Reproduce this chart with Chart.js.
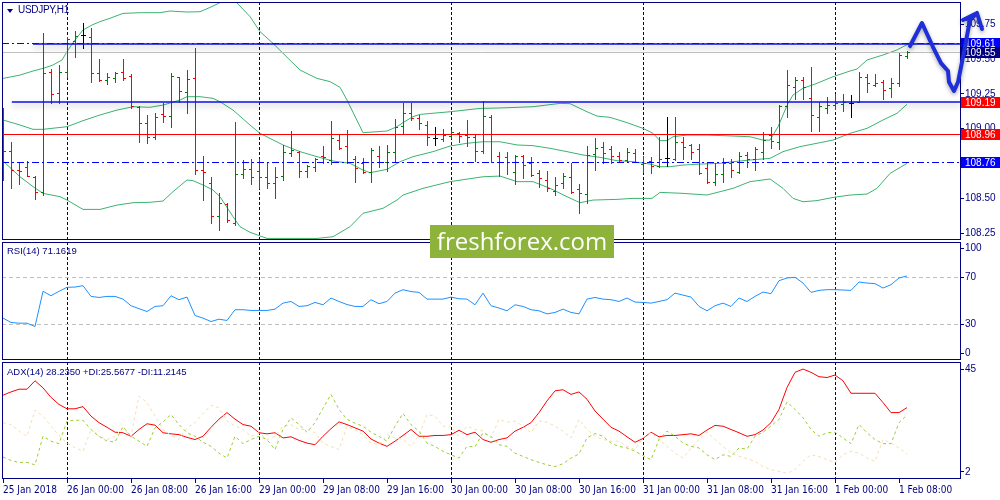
<!DOCTYPE html>
<html>
<head>
<meta charset="utf-8">
<title>USDJPY,H1</title>
<script src="https://cdn.jsdelivr.net/npm/chart.js@4.4.1/dist/chart.umd.min.js"></script>
<style>
  html, body { margin:0; padding:0; background:#ffffff; }
  #stage { position:relative; width:1000px; height:500px; overflow:hidden; background:#ffffff; }
  #stage canvas { position:absolute; left:0; }
  .cap { position:absolute; font-family:"Liberation Sans", Arial, sans-serif; font-size:9.5px; color:#000080; white-space:nowrap; line-height:12px; }
  #tri { position:absolute; left:7px; top:9px; width:0; height:0; border-left:3px solid transparent; border-right:3px solid transparent; border-top:4px solid #000080; }
  #wm { position:absolute; left:430px; top:225px; width:184px; height:33px; background:#8db33a; color:#ffffff; font-family:"Open Sans", sans-serif; font-size:24px; line-height:32px; text-align:center; z-index:5; }
</style>
</head>
<body>
<div id="stage">
  <canvas id="cMain" width="1000" height="241" style="top:0px"></canvas>
  <canvas id="cRsi" width="1000" height="121" style="top:241px"></canvas>
  <canvas id="cAdx" width="1000" height="138" style="top:362px"></canvas>
  <div id="tri"></div>
  <div class="cap" id="tMain" style="left:18px;top:4px;font-size:10px;letter-spacing:-0.3px"></div>
  <div class="cap" id="tRsi" style="left:7px;top:245px"></div>
  <div class="cap" id="tAdx" style="left:7px;top:366px"></div>
  <div id="wm">freshforex.com</div>
</div>
<script>
// ---------------- DATA ----------------
const symbolName = 'USDJPY,H1';
const tickLabels = ['25 Jan 2018','26 Jan 00:00','26 Jan 08:00','26 Jan 16:00','29 Jan 00:00','29 Jan 08:00','29 Jan 16:00','30 Jan 00:00','30 Jan 08:00','30 Jan 16:00','31 Jan 00:00','31 Jan 08:00','31 Jan 16:00','1 Feb 00:00','1 Feb 08:00'];
const tickBars = [0,8,16,24,32,40,48,56,64,72,80,88,96,104,112];
const daySeparators = [8,32,56,80,104];
const priceTicks = [108.25,108.50,108.75,109.00,109.25,109.50,109.75];
const rsiTicks = [0,30,70,100];
const rsiLevels = [30,70];
const adxTicks = [2,45];
const levelPrices = [109.61,109.19,108.96,108.76];

const opens = [
108.727,108.840,108.703,108.727,108.655,108.548,109.408,109.258,109.403,109.628,
109.671,109.659,109.401,109.349,109.360,109.408,109.377,109.157,109.038,108.942,
109.105,109.090,109.368,109.265,109.360,108.703,108.608,108.374,108.460,108.326,
108.672,108.708,108.696,108.655,108.608,108.660,108.828,108.835,108.696,108.727,
108.804,108.775,108.918,108.878,108.780,108.751,108.687,108.806,108.758,108.835,
109.019,109.110,109.074,109.026,108.935,108.923,108.947,108.966,108.954,108.942,
108.842,109.086,108.806,108.799,108.691,108.804,108.751,108.679,108.632,108.555,
108.608,108.651,108.567,108.531,108.818,108.871,108.851,108.806,108.775,108.823,
108.746,108.770,108.734,108.787,108.780,108.906,108.883,108.854,108.720,108.620,
108.675,108.751,108.691,108.811,108.780,108.835,108.954,108.906,109.162,109.296,
109.349,109.217,109.086,109.145,109.172,109.177,109.181,109.193,109.368,109.313,
109.337,109.289,109.325,109.521];
const highs = [
109.145,108.906,108.758,108.768,108.663,109.683,109.425,109.456,109.659,109.702,
109.755,109.719,109.497,109.396,109.408,109.497,109.392,109.162,109.098,109.114,
109.186,109.396,109.372,109.420,109.575,108.804,108.655,108.536,108.469,109.050,
108.775,108.780,108.780,108.756,108.727,108.883,108.983,108.842,108.739,108.787,
108.878,109.055,108.959,108.990,108.804,108.792,108.861,108.878,108.883,109.069,
109.186,109.181,109.098,109.055,109.014,108.997,108.990,108.973,109.062,108.954,
109.198,109.098,108.835,108.835,108.811,108.811,108.799,108.703,108.699,108.655,
108.679,108.751,108.601,108.875,108.935,108.902,108.875,108.835,108.859,108.851,
108.804,108.799,108.942,109.086,109.086,108.942,108.890,108.890,108.751,108.756,
108.787,108.780,108.835,108.835,108.871,108.978,109.014,109.169,109.420,109.368,
109.372,109.444,109.193,109.224,109.246,109.246,109.241,109.408,109.392,109.392,
109.349,109.360,109.544,109.559];
const lows = [
108.632,108.577,108.601,108.663,108.493,108.524,109.181,109.181,109.372,109.516,
109.575,109.337,109.344,109.317,109.337,109.349,109.145,108.906,108.899,108.923,
109.050,109.014,109.193,109.114,108.675,108.488,108.321,108.273,108.333,108.309,
108.644,108.603,108.572,108.577,108.500,108.632,108.804,108.655,108.655,108.699,
108.751,108.746,108.854,108.756,108.620,108.679,108.620,108.727,108.696,108.758,
108.959,109.062,108.997,108.883,108.883,108.911,108.930,108.906,108.878,108.770,
108.823,108.758,108.660,108.675,108.603,108.648,108.660,108.584,108.555,108.524,
108.572,108.541,108.397,108.469,108.703,108.751,108.751,108.770,108.758,108.763,
108.687,108.679,108.727,108.734,108.775,108.782,108.780,108.672,108.608,108.596,
108.620,108.655,108.684,108.727,108.703,108.780,108.859,108.854,109.086,109.210,
109.210,108.985,108.985,109.114,109.138,109.126,109.086,109.193,109.265,109.306,
109.212,109.229,109.306,109.504];
const closes = [
108.840,108.703,108.699,108.663,108.548,109.401,109.248,109.403,109.640,109.664,
109.671,109.401,109.349,109.368,109.396,109.360,109.162,109.038,108.942,109.086,
109.090,109.377,109.270,109.353,108.703,108.691,108.374,108.464,108.345,108.672,
108.708,108.655,108.651,108.608,108.655,108.830,108.847,108.699,108.734,108.780,
108.794,108.930,108.859,108.758,108.715,108.687,108.847,108.763,108.835,109.014,
109.114,109.078,109.038,108.942,108.935,108.954,108.978,108.947,108.937,108.842,
109.090,108.758,108.763,108.758,108.804,108.739,108.667,108.644,108.572,108.596,
108.660,108.548,108.541,108.811,108.859,108.823,108.806,108.775,108.835,108.763,
108.756,108.734,108.780,108.787,108.906,108.871,108.835,108.684,108.620,108.675,
108.751,108.703,108.804,108.780,108.851,108.918,108.914,109.162,109.313,109.349,
109.296,109.098,109.162,109.169,109.186,109.193,109.181,109.372,109.325,109.325,
109.277,109.329,109.528,109.547];

// Bollinger bands: [bar, price]
const bbUpper = [[0,109.360],[2.13,109.384],[3.75,109.413],[5,109.432],[6.25,109.456],[7.38,109.492],[8.13,109.564],[9,109.635],[10,109.707],[11.13,109.743],[12.13,109.767],[13.38,109.791],[15,109.826],[17.13,109.831],[19.63,109.831],[20.88,109.843],[23,109.836],[24.63,109.838],[25.88,109.869],[27.13,109.903],[28.25,109.958],[29.38,109.893],[30.88,109.803],[32.13,109.695],[33.75,109.611],[35,109.540],[37.13,109.420],[39.25,109.360],[40.88,109.337],[42.13,109.296],[43,109.205],[45,108.971],[48,108.983],[49.25,109.014],[50,109.043],[51.25,109.086],[52.13,109.102],[55.88,109.121],[59.63,109.145],[62.13,109.148],[66.25,109.157],[69.63,109.181],[70.88,109.179],[73,109.121],[74.25,109.090],[75.88,109.081],[78,109.043],[80,109.002],[81.25,108.966],[82.13,108.914],[83,108.914],[83.75,108.942],[85.5,108.954],[88,108.954],[93.38,108.942],[95,108.918],[95.88,108.918],[96.88,109.014],[97.5,109.098],[98.13,109.181],[98.75,109.241],[100,109.289],[101.75,109.325],[103.75,109.372],[105.88,109.413],[106.75,109.427],[108,109.492],[110,109.528],[111.75,109.564],[112.5,109.587],[113.38,109.611]];
const bbMiddle = [[0,109.062],[2.13,109.026],[3.75,108.995],[5,108.995],[8,109.014],[10,109.057],[12.13,109.098],[14.25,109.133],[16.25,109.157],[18.38,109.153],[20,109.169],[22.13,109.205],[23,109.229],[24.63,109.229],[26.25,109.217],[27.13,109.193],[28.75,109.133],[30.88,109.026],[32.13,108.966],[35,108.883],[37.13,108.835],[39.25,108.799],[41.25,108.768],[43.38,108.751],[45,108.703],[45.88,108.684],[48,108.708],[49.63,108.763],[51.25,108.799],[53.75,108.835],[55.88,108.875],[58,108.895],[60,108.906],[62.13,108.906],[64.25,108.883],[66.25,108.878],[68.38,108.859],[70.5,108.835],[72.5,108.811],[74.63,108.794],[76.75,108.770],[78.75,108.763],[80.88,108.746],[82.13,108.727],[83.38,108.727],[85,108.739],[87.13,108.746],[89.63,108.751],[91.25,108.763],[93.38,108.775],[95.88,108.787],[97.5,108.835],[99.63,108.871],[101.75,108.895],[103.75,108.918],[105.88,108.966],[108,109.002],[110,109.062],[111.75,109.110],[113,109.174]];
const bbLower = [[0,108.768],[2.13,108.655],[3.75,108.584],[5,108.536],[7.13,108.512],[8,108.488],[10,108.421],[12.13,108.421],[14.25,108.452],[16.25,108.469],[18.38,108.472],[20,108.481],[21.25,108.548],[23,108.632],[23.75,108.627],[25,108.596],[26.25,108.560],[27.13,108.512],[28.75,108.369],[29.63,108.297],[30.88,108.257],[33,108.213],[39.25,108.213],[41.25,108.225],[43.38,108.297],[45,108.393],[47.5,108.429],[49.25,108.488],[50,108.524],[52.5,108.572],[55.88,108.620],[60,108.655],[62.13,108.660],[64.25,108.620],[66.25,108.620],[68.38,108.572],[70.5,108.512],[72.13,108.469],[73.75,108.488],[76.75,108.493],[78.75,108.500],[81.13,108.500],[82.13,108.543],[85,108.536],[88,108.524],[89.63,108.548],[91.25,108.572],[93.38,108.620],[95.88,108.639],[97.5,108.572],[98.75,108.500],[100,108.476],[101.75,108.484],[103.75,108.507],[105.88,108.524],[108,108.531],[109.25,108.572],[110.88,108.679],[113,108.751]];

const rsi = [
35.5,31.8,31.2,31.2,28.4,58.2,54.5,58.2,61.6,61.8,
63.0,53.9,53.0,53.9,53.9,51.6,46.0,43.5,41.1,45.4,
46.0,54.5,51.1,53.3,37.7,35.5,32.6,34.6,33.5,42.6,
42.6,42.0,42.0,42.0,43.1,48.2,49.6,45.4,46.0,48.8,
46.8,52.5,49.6,47.0,45.4,45.4,51.1,47.7,49.6,56.7,
59.6,58.0,57.3,51.6,51.6,51.6,53.3,51.9,51.6,46.8,
56.7,46.0,44.0,41.7,46.8,45.4,42.6,41.7,39.1,40.3,
43.1,40.3,39.1,51.6,53.0,51.6,51.1,49.6,52.5,49.1,
48.8,48.2,49.6,51.1,56.7,55.0,53.3,45.4,41.7,46.0,
48.2,45.4,52.5,49.6,53.9,57.6,56.2,67.2,69.5,70.1,
65.2,57.3,59.0,59.6,59.6,59.3,59.0,66.1,65.2,64.7,
61.0,63.8,69.5,71.1619];
const adx = [
32.8,34.0,35.0,35.0,38.1,35.5,32.0,29.4,27.8,27.8,
28.6,25.1,22.7,21.0,19.2,19.0,17.7,20.2,22.3,21.8,
19.0,18.6,18.3,17.3,16.5,17.7,21.0,24.0,26.4,24.0,
22.0,21.4,19.0,18.6,19.0,17.1,17.5,16.2,15.2,14.6,
17.7,20.5,23.0,22.0,20.8,19.6,16.7,15.2,14.0,15.9,
18.0,20.2,17.7,17.7,18.0,18.0,18.3,19.9,18.3,19.2,
16.5,15.5,16.5,17.1,19.6,21.0,22.7,26.4,30.7,34.4,
34.8,33.1,34.0,31.3,27.0,24.0,21.0,19.6,17.5,15.5,
16.9,19.2,17.5,18.0,18.0,18.3,18.6,18.0,20.0,21.7,
21.4,20.2,19.0,17.7,18.3,20.0,22.7,27.6,35.6,41.2,
42.4,41.2,39.6,39.3,40.2,38.1,33.5,33.5,33.5,33.5,
30.1,26.4,26.4,28.2350];
const plusDI = [
10.1,8.8,8.1,8.1,7.2,17.7,15.9,15.0,23.3,23.6,
23.6,20.2,17.7,15.9,15.6,21.2,17.7,15.9,14.0,20.8,
23.0,25.7,22.0,19.0,17.7,15.5,14.0,11.5,9.7,17.7,
15.0,16.5,17.7,16.5,12.8,20.2,24.5,22.0,19.2,22.7,
28.0,33.1,27.6,23.9,22.5,21.4,19.2,17.7,15.9,21.4,
26.1,22.0,19.6,15.2,14.0,12.2,10.9,9.7,14.0,13.8,
19.0,17.7,14.6,14.0,11.5,10.3,9.1,8.1,7.2,6.6,
7.6,9.7,11.2,17.1,18.7,17.7,15.2,14.0,13.4,12.2,
10.6,9.1,16.5,19.6,17.7,15.2,14.0,13.4,10.9,9.1,
10.9,10.3,13.4,13.0,17.7,19.2,21.5,23.9,30.3,27.6,
24.5,20.2,17.7,19.0,19.2,17.1,15.0,22.0,19.0,16.5,
15.0,15.0,22.7,25.5677];
const minusDI = [
22.7,22.0,19.6,17.7,27.3,25.1,21.4,18.0,15.2,13.5,
12.2,20.2,17.7,16.5,17.7,20.8,17.7,32.5,30.1,25.1,
20.2,18.0,16.5,20.8,22.7,26.0,29.1,28.2,23.3,21.5,
20.2,17.7,19.0,16.5,17.7,21.4,22.0,20.2,20.2,19.0,
15.2,14.0,12.8,21.4,20.0,18.3,15.2,14.6,18.3,17.1,
16.5,14.0,18.0,25.7,25.1,21.4,21.4,17.7,21.4,20.2,
19.6,17.1,23.9,22.9,23.3,21.4,19.0,23.3,22.9,21.4,
19.6,17.1,23.9,20.2,17.7,16.5,15.9,15.9,14.0,12.8,
17.1,19.2,16.5,14.0,11.5,9.7,13.4,16.5,19.2,16.5,
14.0,11.5,10.3,9.5,8.5,6.6,5.4,4.8,4.1,5.4,
8.5,10.9,10.3,9.1,8.1,10.9,12.2,11.5,9.7,8.5,
16.5,15.2,13.4,11.2145];

// hand-drawn forecast arrow, in [bar, price]
const arrowPath = [[113.375,109.592],[114.875,109.757],[116.25,109.585],[117.25,109.470],[118.125,109.413],[118.25,109.334],[118.875,109.270],[119.375,109.334],[120.0,109.513],[120.875,109.779],[121.75,109.829]];
const arrowWings = [[120.0,109.779],[122.375,109.714]];

// ---------------- STYLE / LAYOUT ----------------
const NAVY = '#000080';
const X_MIN = -0.125, X_MAX = 119.75;
const MAIN_MIN = 108.2017, MAIN_MAX = 109.9077;
const FONT_AX = {family:'"Liberation Sans", Arial, sans-serif', size:10};
const FONT_X = {family:'"Liberation Sans Narrow", "DejaVu Sans Condensed", "Liberation Sans", sans-serif', size:10};
const LEVEL_STYLES = [
  {color:'#0c0cec', width:1.6, shadow:true, fromBar:3.75, lead:{color:'#0000ff', dash:[7,3,2,3]}, box:'#0000ff'},
  {color:'#0c0cec', width:1.6, shadow:true, fromBar:1.1, box:'#ff0000'},
  {color:'#ff0000', width:1, box:'#ff0000'},
  {color:'#0000ff', width:1, dash:[7,3,2,3], box:'#0000ff'}
];

document.getElementById('tMain').textContent = symbolName;
document.getElementById('tRsi').textContent = 'RSI(14) ' + rsi[rsi.length-1].toFixed(4);
document.getElementById('tAdx').textContent = 'ADX(14) ' + adx[adx.length-1].toFixed(4) + ' +DI:' + plusDI[plusDI.length-1].toFixed(4) + ' -DI:' + minusDI[minusDI.length-1].toFixed(4);

const series = arr => arr.map((v,i) => ({x:i, y:v}));
const pairs = arr => arr.map(p => ({x:p[0], y:p[1]}));
function noPad(s){ s.paddingLeft = 0; s.paddingRight = 0; s.paddingTop = 0; s.paddingBottom = 0; }

function xAxis(withLabels){
  return {
    type:'linear', position:'bottom', min:X_MIN, max:X_MAX,
    afterBuildTicks: s => { s.ticks = tickBars.map(v => ({value:v})); },
    afterFit: s => { s.height = withLabels ? 21 : 0; noPad(s); },
    grid: { display:true, drawOnChartArea:true, drawTicks:withLabels, tickLength:4, tickColor:NAVY, lineWidth:1,
            color: c => (c.tick && daySeparators.includes(c.tick.value)) ? NAVY : 'rgba(0,0,0,0)' },
    border: { display:false, dash:[3,2] },
    ticks: { display:withLabels, autoSkip:false, maxRotation:0, minRotation:0, align:'start', padding:1,
             color:NAVY, font:FONT_X, callback: (v,i) => tickLabels[i] }
  };
}
function yAxis(min, max, positions, labelFn, gridFn){
  return {
    type:'linear', position:'right', min, max,
    afterBuildTicks: s => { s.ticks = positions.map(v => ({value:v})); },
    afterFit: s => { s.width = 39; noPad(s); },
    grid: { drawOnChartArea: !!gridFn, drawTicks:true, tickLength:3, tickColor:NAVY, lineWidth:1,
            color: gridFn || NAVY },
    border: { display:false, dash: gridFn ? [4,3] : [] },
    ticks: { autoSkip:false, padding:1, color:NAVY, font:FONT_AX, callback: (v,i) => labelFn(i) }
  };
}
function baseOptions(pad, scales){
  return {
    responsive:false, animation:false, devicePixelRatio:1, events:[],
    layout:{padding:pad},
    plugins:{legend:{display:false}, tooltip:{enabled:false}, title:{display:false}},
    elements:{point:{radius:0}, line:{tension:0, borderWidth:1}},
    scales
  };
}

const framePlugin = {
  id:'frame',
  afterDraw(chart){
    const {ctx, chartArea:a} = chart;
    ctx.save();
    ctx.strokeStyle = NAVY; ctx.lineWidth = 1;
    ctx.strokeRect(a.left + 0.5, a.top + 0.5, a.right - a.left - 1, a.bottom - a.top - 1);
    ctx.restore();
  }
};

const mainOverlay = {
  id:'mainOverlay',
  afterDatasetsDraw(chart){
    const {ctx, chartArea:a, scales:{x, y}} = chart;
    ctx.save();
    ctx.beginPath(); ctx.rect(a.left, a.top, a.right - a.left, a.bottom - a.top); ctx.clip();
    // bid line
    const last = closes[closes.length-1];
    const yb = Math.round(y.getPixelForValue(last) - 0.5) + 0.5;
    ctx.strokeStyle = '#c0c0c0'; ctx.lineWidth = 1;
    ctx.beginPath(); ctx.moveTo(a.left, yb); ctx.lineTo(a.right, yb); ctx.stroke();
    // OHLC bars
    for (let i = 0; i < opens.length; i++) {
      const px = Math.round(x.getPixelForValue(i));
      const o = opens[i], c = closes[i];
      ctx.fillStyle = c > o ? '#008000' : (c < o ? '#ff0000' : '#000000');
      const yh = Math.round(y.getPixelForValue(highs[i]));
      const yl = Math.round(y.getPixelForValue(lows[i]));
      ctx.fillRect(px, yh, 1, Math.max(1, yl - yh + 1));
      const yo = Math.round(y.getPixelForValue(o));
      const yc = Math.round(y.getPixelForValue(c));
      ctx.fillRect(px - 2, yo, 2, 1);
      ctx.fillRect(px + 1, yc, 2, 1);
    }
    // level lines
    levelPrices.forEach((p, k) => {
      const st = LEVEL_STYLES[k];
      const yv = y.getPixelForValue(p);
      if (st.lead) {
        const yy = Math.round(yv - 0.5) + 0.5;
        ctx.save();
        ctx.strokeStyle = st.lead.color; ctx.lineWidth = 1; ctx.setLineDash(st.lead.dash);
        ctx.beginPath(); ctx.moveTo(a.left, yy); ctx.lineTo(a.right, yy); ctx.stroke();
        ctx.restore();
      }
      ctx.save();
      const yy = st.width > 1 ? Math.round(yv) : Math.round(yv - 0.5) + 0.5;
      const x0 = st.fromBar !== undefined ? x.getPixelForValue(st.fromBar) : a.left;
      ctx.strokeStyle = st.color; ctx.lineWidth = st.width;
      if (st.dash) ctx.setLineDash(st.dash);
      if (st.shadow) { ctx.shadowColor = 'rgba(0,0,0,0.35)'; ctx.shadowBlur = 6; ctx.shadowOffsetY = 3; }
      ctx.beginPath(); ctx.moveTo(x0, yy); ctx.lineTo(a.right, yy); ctx.stroke();
      ctx.restore();
    });
    ctx.restore();
  },
  afterDraw(chart){
    const {ctx, chartArea:a, scales:{x, y}} = chart;
    ctx.save();
    ctx.font = '10px "Liberation Sans", Arial, sans-serif';
    ctx.textBaseline = 'middle'; ctx.textAlign = 'left';
    const box = (p, fill) => {
      const yc = y.getPixelForValue(p);
      const top = Math.round(yc - 5.5);
      ctx.fillStyle = fill; ctx.fillRect(a.right, top, 39, 11);
      ctx.fillStyle = '#ffffff'; ctx.fillText(p.toFixed(2), a.right + 4, top + 6);
    };
    levelPrices.forEach((p, k) => box(p, LEVEL_STYLES[k].box));
    box(closes[closes.length-1], NAVY);
    // forecast arrow
    ctx.strokeStyle = '#1e2ed8'; ctx.lineWidth = 4; ctx.lineJoin = 'round'; ctx.lineCap = 'round';
    ctx.shadowColor = 'rgba(0,0,0,0.35)'; ctx.shadowBlur = 4; ctx.shadowOffsetY = 2;
    ctx.beginPath();
    arrowPath.forEach((p, k) => {
      const px = x.getPixelForValue(p[0]), py = y.getPixelForValue(p[1]);
      if (k) ctx.lineTo(px, py); else ctx.moveTo(px, py);
    });
    const tip = arrowPath[arrowPath.length-1];
    ctx.moveTo(x.getPixelForValue(arrowWings[0][0]), y.getPixelForValue(arrowWings[0][1]));
    ctx.lineTo(x.getPixelForValue(tip[0]), y.getPixelForValue(tip[1]));
    ctx.lineTo(x.getPixelForValue(arrowWings[1][0]), y.getPixelForValue(arrowWings[1][1]));
    ctx.stroke();
    ctx.restore();
  }
};

const BB = '#3cb371';
new Chart(document.getElementById('cMain'), {
  type:'line',
  data:{ datasets:[
    {data:pairs(bbUpper), borderColor:BB, borderWidth:1, pointRadius:0},
    {data:pairs(bbMiddle), borderColor:BB, borderWidth:1, pointRadius:0},
    {data:pairs(bbLower), borderColor:BB, borderWidth:1, pointRadius:0}
  ]},
  options: baseOptions({left:2, top:2, right:0, bottom:1}, {
    x: xAxis(false),
    y: yAxis(MAIN_MIN, MAIN_MAX, priceTicks, i => priceTicks[i].toFixed(2), null)
  }),
  plugins:[framePlugin, mainOverlay]
});

new Chart(document.getElementById('cRsi'), {
  type:'line',
  data:{ datasets:[ {data:series(rsi), borderColor:'#1e90ff', borderWidth:1, pointRadius:0} ]},
  options: baseOptions({left:2, top:1, right:0, bottom:2}, {
    x: xAxis(false),
    y: yAxis(0, 100, rsiTicks.map(v => v === 100 ? 94.5 : (v === 0 ? 5.5 : v)), i => String(rsiTicks[i]),
             c => (c.tick && rsiLevels.includes(c.tick.value)) ? '#c0c0c0' : 'rgba(0,0,0,0)')
  }),
  plugins:[framePlugin]
});

new Chart(document.getElementById('cAdx'), {
  type:'line',
  data:{ datasets:[
    {data:series(plusDI), borderColor:'#9acd32', borderWidth:1, borderDash:[3,3], pointRadius:0},
    {data:series(minusDI), borderColor:'#f5deb3', borderWidth:1, borderDash:[3,3], pointRadius:0},
    {data:series(adx), borderColor:'#ff0000', borderWidth:1, pointRadius:0}
  ]},
  options: baseOptions({left:2, top:0, right:0, bottom:0}, {
    x: xAxis(true),
    y: yAxis(2, 45, adxTicks.map(v => v === 45 ? 42.4 : (v === 2 ? 4.6 : v)), i => String(adxTicks[i]), null)
  }),
  plugins:[framePlugin]
});
</script>
</body>
</html>
